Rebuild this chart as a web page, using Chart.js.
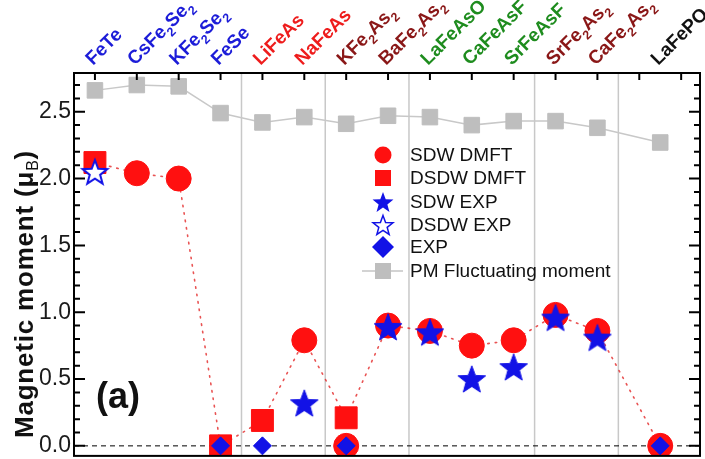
<!DOCTYPE html>
<html><head><meta charset="utf-8">
<script src="https://cdn.jsdelivr.net/npm/chart.js@4.4.1/dist/chart.umd.min.js"></script>
<style>html,body{margin:0;padding:0;background:#fff;overflow:hidden}#wrap{width:705px;height:459px;position:relative}</style>
</head><body><div id="wrap"><canvas id="c"></canvas></div>
<script>
// ---- data ----
const categories = ['FeTe','CsFe_2Se_2','KFe_2Se_2','FeSe','LiFeAs','NaFeAs','KFe_2As_2','BaFe_2As_2','LaFeAsO','CaFeAsF','SrFeAsF','SrFe_2As_2','CaFe_2As_2','LaFePO'];
const categoryPos = [1,2,3,4,5,6,7,8,9,10,11,12,13,14.5];
const categoryColors = ['#1c1cd8','#1c1cd8','#1c1cd8','#1c1cd8','#ee1c1c','#ee1c1c','#8a1717','#8a1717','#1e8c1e','#1e8c1e','#1e8c1e','#8a1717','#8a1717','#111111'];
const sdwDmft  = [null,2.04,2.00,null,null,0.79,0.00,0.90,0.86,0.75,0.79,0.98,0.86,0.00];
const dsdwDmft = [2.12,null,null,0.00,0.19,null,0.21,null,null,null,null,null,null,null];
const sdwExp   = [null,null,null,null,null,0.32,null,0.89,0.85,0.50,0.59,0.96,0.81,null];
const dsdwExp  = [2.05,null,null,null,null,null,null,null,null,null,null,null,null,null];
const expMoment= [null,null,null,0.00,0.00,null,0.00,null,null,null,null,null,null,0.00];
const pmMoment = [2.66,2.70,2.69,2.49,2.42,2.46,2.41,2.47,2.46,2.40,2.43,2.43,2.38,2.27];
const groupSeparators = [4.5,6.5,8.5,11.5,13.5];
const topTicks = [1,2,3,4,5,6,7,8,9,10,11,12,13,14,15];
const yMajorTicks = [0,0.5,1.0,1.5,2.0,2.5];
const yMinorTicks = [0.1,0.2,0.3,0.4,0.6,0.7,0.8,0.9,1.1,1.2,1.3,1.4,1.6,1.7,1.8,1.9,2.1,2.2,2.3,2.4,2.6,2.7];
const X_MIN = 0.5, X_MAX = 15.45, Y_MIN = -0.075, Y_MAX = 2.79;
const legendLabels = ['SDW DMFT','DSDW DMFT','SDW EXP','DSDW EXP','EXP','PM Fluctuating moment'];

const RED = '#ff1010', BLUE = '#1212e6', GRAY = '#bebebe';
const dmftTrend = categories.map((c,i)=> dsdwDmft[i] != null ? dsdwDmft[i] : sdwDmft[i]);
const pts = arr => arr.map((v,i)=> v==null ? null : {x: categoryPos[i], y: v}).filter(Boolean);

function starPath(g, cx, cy, R, r){
  g.beginPath();
  for (let k=0;k<10;k++){
    const rad = k%2===0 ? R : r;
    const a = -Math.PI/2 + k*Math.PI/5;
    const px = cx + rad*Math.cos(a), py = cy + rad*Math.sin(a);
    if(k===0) g.moveTo(px,py); else g.lineTo(px,py);
  }
  g.closePath();
}
function makeStar(R, fill, stroke, lw){
  const s = Math.ceil(2*R + lw + 4);
  const c = document.createElement('canvas'); c.width = s; c.height = s;
  const g = c.getContext('2d');
  starPath(g, s/2, s/2 + R*0.09, R, R*0.42);
  g.fillStyle = fill; g.fill();
  g.lineWidth = lw; g.strokeStyle = stroke; g.lineJoin='miter'; g.stroke();
  return c;
}
const starFilled = makeStar(14.5, BLUE, BLUE, 1);
const starOpen = makeStar(13, '#ffffff', BLUE, 2);

function drawRich(ctx, label, size, subSize){
  const parts = label.split(/_(\d)/);
  let cx = 0;
  parts.forEach((p,k)=>{
    if(!p) return;
    if(k%2===1){
      ctx.font = 'bold '+subSize+'px "Liberation Sans", Arial, sans-serif';
      ctx.fillText(p, cx, size*0.3);
    } else {
      ctx.font = 'bold '+size+'px "Liberation Sans", Arial, sans-serif';
      ctx.fillText(p, cx, 0);
    }
    cx += ctx.measureText(p).width;
  });
  return cx;
}

const decor = {
  id: 'decor',
  beforeDatasetsDraw(chart){
    const {ctx, chartArea:a, scales:{x}} = chart;
    ctx.save();
    ctx.strokeStyle = '#c8c8c8'; ctx.lineWidth = 1.5;
    groupSeparators.forEach(s=>{
      const px = x.getPixelForValue(s);
      ctx.beginPath(); ctx.moveTo(px, a.top); ctx.lineTo(px, a.bottom); ctx.stroke();
    });
    ctx.restore();
  },
  afterDatasetsDraw(chart){
    const {ctx, chartArea:a, scales:{x,y}} = chart;
    ctx.save();
    // frame
    ctx.strokeStyle = '#000'; ctx.lineWidth = 2;
    ctx.strokeRect(a.left, a.top, a.right-a.left, a.bottom-a.top);
    // y ticks (inward, both sides)
    yMajorTicks.forEach(v=>{ const py=y.getPixelForValue(v);
      ctx.beginPath(); ctx.moveTo(a.left,py); ctx.lineTo(a.left+11,py);
      ctx.moveTo(a.right,py); ctx.lineTo(a.right-11,py); ctx.stroke(); });
    yMinorTicks.forEach(v=>{ const py=y.getPixelForValue(v);
      ctx.beginPath(); ctx.moveTo(a.left,py); ctx.lineTo(a.left+6,py);
      ctx.moveTo(a.right,py); ctx.lineTo(a.right-6,py); ctx.stroke(); });
    // top ticks
    topTicks.forEach(v=>{ const px=x.getPixelForValue(v);
      ctx.beginPath(); ctx.moveTo(px,a.top); ctx.lineTo(px,a.top+7); ctx.stroke(); });
    // top category labels
    ctx.textAlign = 'left'; ctx.textBaseline = 'alphabetic';
    categories.forEach((lab,i)=>{
      const px = x.getPixelForValue(categoryPos[i]);
      ctx.save();
      ctx.translate(px-2, a.top-7);
      ctx.rotate(-Math.PI/4);
      ctx.fillStyle = categoryColors[i];
      drawRich(ctx, lab, 19, 12.5);
      ctx.restore();
    });
    // y title
    ctx.save();
    ctx.fillStyle = '#111';
    const parts = ['Magnetic moment (\u03bc','B',')'];
    const f1 = 'bold 26px "Liberation Sans", Arial, sans-serif';
    const f2 = '16px "Liberation Sans", Arial, sans-serif';
    try { ctx.letterSpacing = '0.8px'; } catch(e) {}
    ctx.font = f1; const w0 = ctx.measureText(parts[0]).width, w2 = ctx.measureText(parts[2]).width;
    ctx.font = f2; const w1 = ctx.measureText(parts[1]).width;
    const tw = w0+w1+w2;
    ctx.translate(33, 294); ctx.rotate(-Math.PI/2);
    let cx = -tw/2;
    ctx.font = f1; ctx.fillText(parts[0], cx, 0); cx += w0;
    ctx.font = f2; ctx.fillText(parts[1], cx, 5); cx += w1;
    ctx.font = f1; ctx.fillText(parts[2], cx, 0);
    ctx.restore();
    // panel label
    ctx.fillStyle = '#111';
    ctx.font = 'bold 36px "Liberation Sans", Arial, sans-serif';
    ctx.fillText('(a)', 96, 408);
    // legend
    const lx = 383, tx = 410, rows = [155,178,202,225,247,271];
    ctx.textBaseline = 'middle';
    ctx.font = '19px "Liberation Sans", Arial, sans-serif';
    rows.forEach((ry,k)=>{
      ctx.save();
      if(k===0){ ctx.fillStyle=RED; ctx.beginPath(); ctx.arc(lx,ry,8.5,0,Math.PI*2); ctx.fill(); }
      if(k===1){ ctx.fillStyle=RED; ctx.fillRect(lx-8,ry-8,16,16); }
      if(k===2){ starPath(ctx,lx,ry+1,11,4.6); ctx.fillStyle=BLUE; ctx.fill(); }
      if(k===3){ starPath(ctx,lx,ry+1,10.5,4.4); ctx.fillStyle='#fff'; ctx.fill(); ctx.strokeStyle=BLUE; ctx.lineWidth=1.5; ctx.stroke(); }
      if(k===4){ ctx.fillStyle=BLUE; ctx.beginPath(); ctx.moveTo(lx,ry-11); ctx.lineTo(lx+11,ry); ctx.lineTo(lx,ry+11); ctx.lineTo(lx-11,ry); ctx.closePath(); ctx.fill(); }
      if(k===5){ ctx.strokeStyle='#c4c4c4'; ctx.lineWidth=1.5; ctx.beginPath(); ctx.moveTo(lx-21,ry); ctx.lineTo(lx+20,ry); ctx.stroke(); ctx.fillStyle=GRAY; ctx.fillRect(lx-8,ry-8,16,16); }
      ctx.restore();
      ctx.fillStyle = '#111';
      ctx.fillText(legendLabels[k], tx, ry+1);
    });
    ctx.restore();
  }
};

new Chart(document.getElementById('c'), {
  type: 'scatter',
  data: { datasets: [
    {label:'EXP', data: pts(expMoment), pointStyle:'rectRot', pointRadius:9, backgroundColor:BLUE, borderColor:BLUE, borderWidth:1, order:0},
    {label:'SDW EXP', data: pts(sdwExp), pointStyle:starFilled, pointRadius:15, order:1},
    {label:'DSDW EXP', data: pts(dsdwExp), pointStyle:starOpen, pointRadius:14, order:1},
    {label:'SDW DMFT', data: pts(sdwDmft), pointStyle:'circle', pointRadius:12.5, backgroundColor:RED, borderColor:RED, borderWidth:1, order:2},
    {label:'DSDW DMFT', data: pts(dsdwDmft), pointStyle:'rect', pointRadius:15.5, backgroundColor:RED, borderColor:RED, borderWidth:1, order:2},
    {label:'PM Fluctuating moment', data: pts(pmMoment), showLine:true, borderColor:'#c8c8c8', borderWidth:1.5, pointStyle:'rect', pointRadius:11, pointBackgroundColor:GRAY, pointBorderColor:GRAY, pointBorderWidth:1, order:4},
    {label:'DMFT trend', data: pts(dmftTrend), showLine:true, borderColor:'rgba(228,40,40,0.8)', borderWidth:1.6, borderDash:[1.5,6], borderCapStyle:'round', pointRadius:0, order:5},
    {label:'zero', data:[{x:X_MIN,y:0},{x:X_MAX,y:0}], showLine:true, borderColor:'#000', borderWidth:1, borderDash:[5,4], pointRadius:0, order:6}
  ]},
  options: {
    responsive: true, maintainAspectRatio: false, animation: false, events: [],
    layout: { autoPadding: false, padding: {left:0, top:73, right:5, bottom:2} },
    plugins: { legend:{display:false}, tooltip:{enabled:false} },
    scales: {
      x: { type:'linear', min:X_MIN, max:X_MAX, display:false },
      y: { type:'linear', min:Y_MIN, max:Y_MAX,
           grid:{display:false, drawTicks:false}, border:{display:false},
           ticks:{ stepSize:0.5, includeBounds:false, padding:3, color:'#1a1a1a',
                   font:{family:'"Liberation Sans", Arial, sans-serif', size:23, lineHeight:0.01},
                   callback: v => v.toFixed(1) },
           afterFit(s){ s.width = 74; } }
    }
  },
  plugins: [decor]
});
</script></body></html>
